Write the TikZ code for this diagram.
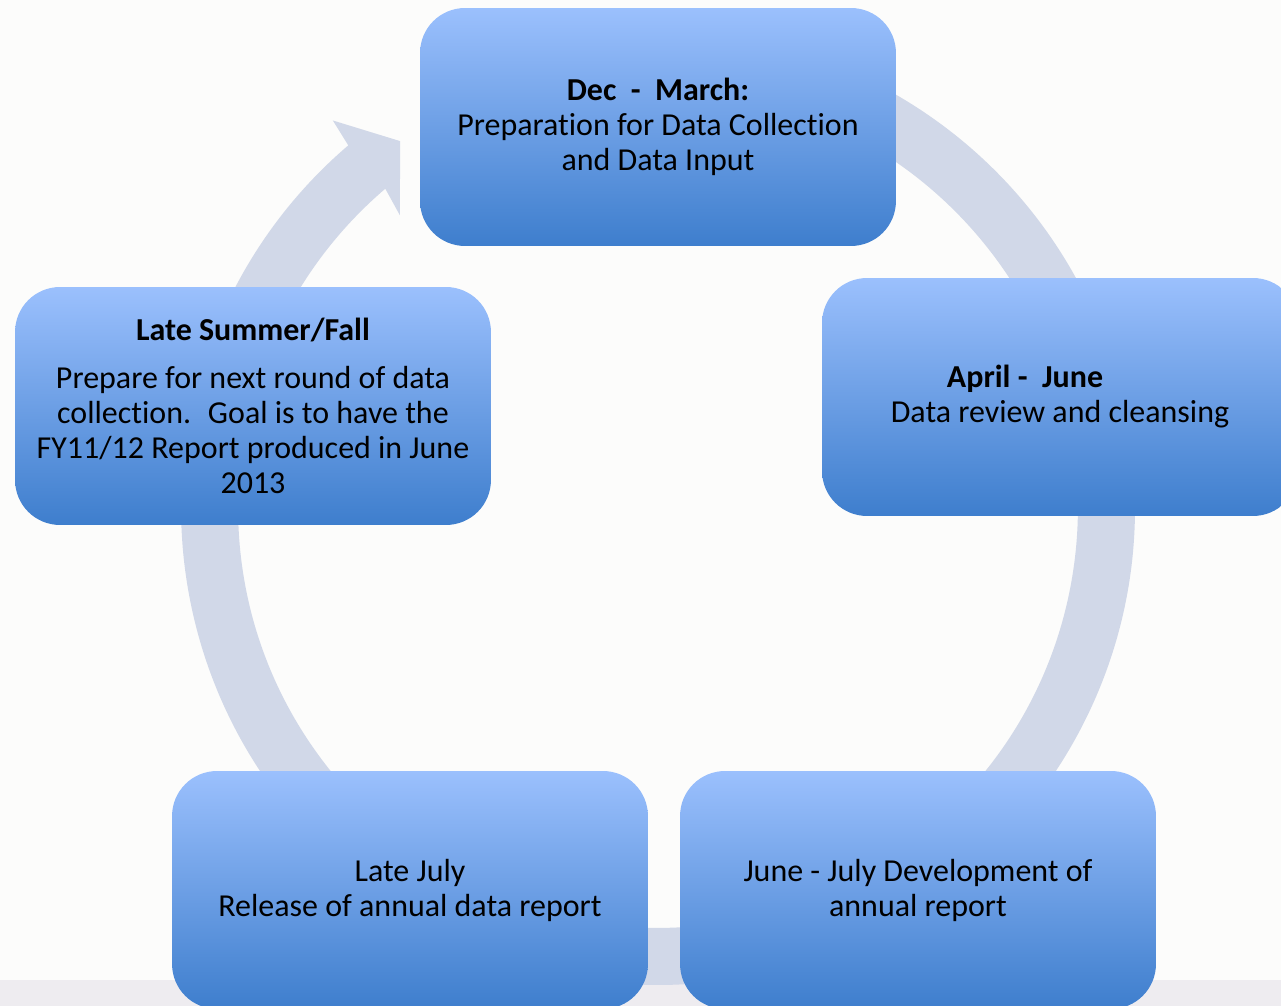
\documentclass[tikz,border=0pt]{standalone}
\usepackage{fontspec}
\setmainfont{Carlito}[Ligatures=CommonOff]
\definecolor{ringgray}{RGB}{209,216,232}
\definecolor{boxtop}{RGB}{155,192,253}
\definecolor{boxbot}{RGB}{62,126,205}
\definecolor{pagebg}{RGB}{252,252,251}
\definecolor{stripbg}{RGB}{238,236,240}

\begin{document}
\begin{tikzpicture}[x=0.02cm,y=-0.02cm]
    \useasboundingbox (0,0) rectangle (1281,1006);
    \clip (0,0) rectangle (1281,1006);
    \fill[pagebg] (0,0) rectangle (1281,1006);
    \fill[stripbg] (0,980) rectangle (1281,1006);

    % ring with arrow head
    \begin{scope}[shift={(658,508)}]
        \fill[ringgray] (100:9.54cm) arc[start angle=100,end angle=-229.5,radius=9.54cm]
            -- (130:10.12cm) -- (125.1:8.97cm) -- (131.4:7.81cm) -- (130.5:8.4cm)
            arc[start angle=-229.5,end angle=100,radius=8.4cm] -- cycle;
    \end{scope}

    \begin{scope}[every node/.style={rectangle,rounded corners=0.9cm,minimum width=9.52cm,minimum height=4.76cm,top color=boxtop,bottom color=boxbot,align=center,font=\fontsize{18.2}{19.9}\selectfont,inner sep=0pt}]
        \node (1) at (658,127) {\textbf{Dec~~-~~March:}\\Preparation for Data Collection\\and Data Input};
        \node (2) at (1060,397) {\textbf{April -~~June}\hspace*{1.4cm}\\Data review and cleansing};
        \node (3) at (918,890) {June - July Development of\\annual report};
        \node (4) at (410,890) {Late July\\Release of annual data report};
        \node (5) at (253,406) {\textbf{Late Summer/Fall}\\[0.26cm]Prepare for next round of data\\collection.~ Goal is to have the\\FY11/12 Report produced in June\\2013};
    \end{scope}
\end{tikzpicture}
\end{document}
